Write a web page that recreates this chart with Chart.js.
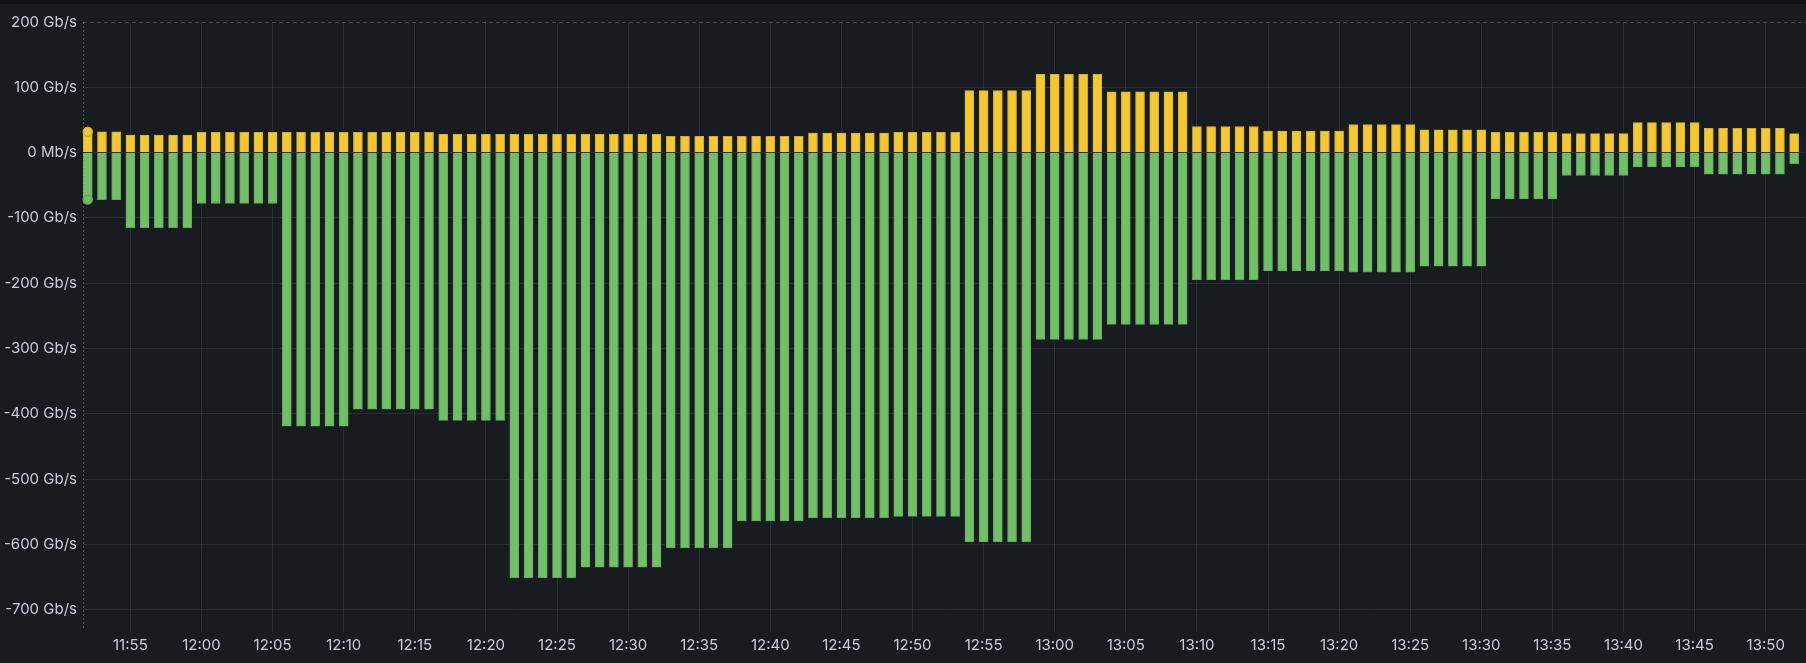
<!DOCTYPE html>
<html>
<head>
<meta charset="utf-8">
<script src="https://cdn.jsdelivr.net/npm/chart.js@4.4.1/dist/chart.umd.min.js"></script>
<style>
  html, body { margin: 0; padding: 0; background: #111217; }
  #panel { position: absolute; left: 0; top: 4px; width: 1806px; height: 659px; background: #181b1f; }
  canvas { display: block; }
</style>
</head>
<body>
<div id="panel"><canvas id="traffic" width="1806" height="659"></canvas></div>
<script>
// one sample per minute, first sample at 11:52
const startTime = "11:52";

// received traffic, Gb/s (drawn upwards)
const received = [
  32, 32, 32,
  27, 27, 27, 27, 27,
  31, 31, 31, 31, 31, 31, 31, 31, 31, 31, 31, 31, 31, 31, 31, 31, 31,
  28, 28, 28, 28, 28, 28, 28, 28, 28, 28, 28, 28, 28, 28, 28, 28,
  25, 25, 25, 25, 25, 25, 25, 25, 25, 25,
  30, 30, 30, 30, 30, 30,
  31, 31, 31, 31, 31,
  95, 95, 95, 95, 95,
  120, 120, 120, 120, 120,
  93, 93, 93, 93, 93, 93,
  40, 40, 40, 40, 40,
  33, 33, 33, 33, 33, 33,
  43, 43, 43, 43, 43,
  35, 35, 35, 35, 35,
  31, 31, 31, 31, 31,
  29, 29, 29, 29, 29,
  46, 46, 46, 46, 46,
  37, 37, 37, 37, 37, 37,
  29
];

// sent traffic, Gb/s (drawn downwards)
const sent = [
  -72, -72, -72,
  -115, -115, -115, -115, -115,
  -78, -78, -78, -78, -78, -78,
  -419, -419, -419, -419, -419,
  -393, -393, -393, -393, -393, -393,
  -410, -410, -410, -410, -410,
  -651, -651, -651, -651, -651,
  -635, -635, -635, -635, -635, -635,
  -605, -605, -605, -605, -605,
  -564, -564, -564, -564, -564,
  -559, -559, -559, -559, -559, -559,
  -557, -557, -557, -557, -557,
  -596, -596, -596, -596, -596,
  -286, -286, -286, -286, -286,
  -263, -263, -263, -263, -263, -263,
  -195, -195, -195, -195, -195,
  -181, -181, -181, -181, -181, -181,
  -183, -183, -183, -183, -183,
  -174, -174, -174, -174, -174,
  -71, -71, -71, -71, -71,
  -35, -35, -35, -35, -35,
  -22, -22, -22, -22, -22,
  -33, -33, -33, -33, -33, -33,
  -17
];

const xTickLabels = ["11:55", "12:00", "12:05", "12:10", "12:15", "12:20", "12:25", "12:30",
  "12:35", "12:40", "12:45", "12:50", "12:55", "13:00", "13:05", "13:10", "13:15", "13:20",
  "13:25", "13:30", "13:35", "13:40", "13:45", "13:50"];
const yTickValues = [200, 100, 0, -100, -200, -300, -400, -500, -600, -700];

// visible time window (minutes of the day) and value range
const viewStart = "11:51:40";
const viewEnd = "13:52:50";
const yMin = -728;
const yMax = 200;

function toMinutes(s) {
  const p = s.split(":").map(Number);
  return p[0] * 60 + p[1] + (p[2] || 0) / 60;
}
function fmtTime(m) {
  const h = Math.floor(m / 60);
  const mm = Math.round(m - h * 60);
  return String(h).padStart(2, "0") + ":" + String(mm).padStart(2, "0");
}

const t0 = toMinutes(startTime);
const toPoints = arr => arr.map((v, i) => ({ x: t0 + i, y: v }));

const textColor = "rgb(204, 204, 220)";
const gridColor = "rgba(204, 204, 220, 0.1)";
const font = { family: "Inter", size: 15 };

// dashed top line, cursor line and the hover dots on the first sample
const overlay = {
  id: "overlay",
  afterDatasetsDraw(chart) {
    const { ctx, chartArea, scales } = chart;
    ctx.save();
    ctx.lineWidth = 1;

    const yTop = Math.round(scales.y.getPixelForValue(yMax)) + 0.5;
    ctx.strokeStyle = "rgba(204, 204, 220, 0.22)";
    ctx.setLineDash([4, 3]);
    ctx.beginPath();
    ctx.moveTo(chartArea.left, yTop);
    ctx.lineTo(chartArea.right, yTop);
    ctx.stroke();

    const xc = Math.round(chartArea.left) + 0.5;
    ctx.strokeStyle = "rgba(204, 204, 220, 0.3)";
    ctx.setLineDash([2, 2]);
    ctx.beginPath();
    ctx.moveTo(xc, chartArea.top);
    ctx.lineTo(xc, chartArea.bottom);
    ctx.stroke();

    ctx.setLineDash([]);
    chart.data.datasets.forEach((ds, i) => {
      const bar = chart.getDatasetMeta(i).data[0];
      ctx.fillStyle = ds.backgroundColor;
      ctx.strokeStyle = ds.borderColor;
      ctx.lineWidth = 1.5;
      ctx.beginPath();
      ctx.arc(bar.x, bar.y, 4.5, 0, Math.PI * 2);
      ctx.fill();
      ctx.stroke();
    });
    ctx.restore();
  }
};

const ctx = document.getElementById("traffic").getContext("2d");
new Chart(ctx, {
  type: "bar",
  data: {
    datasets: [
      {
        label: "received",
        data: toPoints(received),
        backgroundColor: "#F2C935",
        borderColor: "#d4b02c",
        borderWidth: 1,
        barThickness: 9,
        grouped: false
      },
      {
        label: "sent",
        data: toPoints(sent),
        backgroundColor: "#73BF69",
        borderColor: "#62a859",
        borderWidth: 1,
        barThickness: 9,
        grouped: false
      }
    ]
  },
  options: {
    responsive: false,
    animation: false,
    layout: { padding: { top: 18, left: 0, right: 0, bottom: 0 } },
    plugins: {
      legend: { display: false },
      tooltip: { enabled: false }
    },
    scales: {
      x: {
        type: "linear",
        offset: false,
        min: toMinutes(viewStart),
        max: toMinutes(viewEnd),
        afterBuildTicks: s => { s.ticks = xTickLabels.map(l => ({ value: toMinutes(l) })); },
        afterFit: s => { s.height = 35; },
        ticks: {
          callback: v => fmtTime(v),
          color: textColor,
          font: font,
          padding: 4,
          maxRotation: 0,
          autoSkip: false
        },
        grid: { color: gridColor, tickLength: 4, offset: false },
        border: { display: false }
      },
      y: {
        min: yMin,
        max: yMax,
        afterBuildTicks: s => { s.ticks = yTickValues.map(v => ({ value: v })); },
        afterFit: s => { s.width = 83; },
        ticks: {
          callback: v => (v === 0 ? "0 Mb/s" : v + " Gb/s"),
          color: textColor,
          font: font,
          padding: 6
        },
        grid: {
          drawTicks: false,
          color: c => (c.tick && c.tick.value === yMax ? "transparent" : gridColor)
        },
        border: { display: false }
      }
    }
  },
  plugins: [overlay]
});
</script>
</body>
</html>
